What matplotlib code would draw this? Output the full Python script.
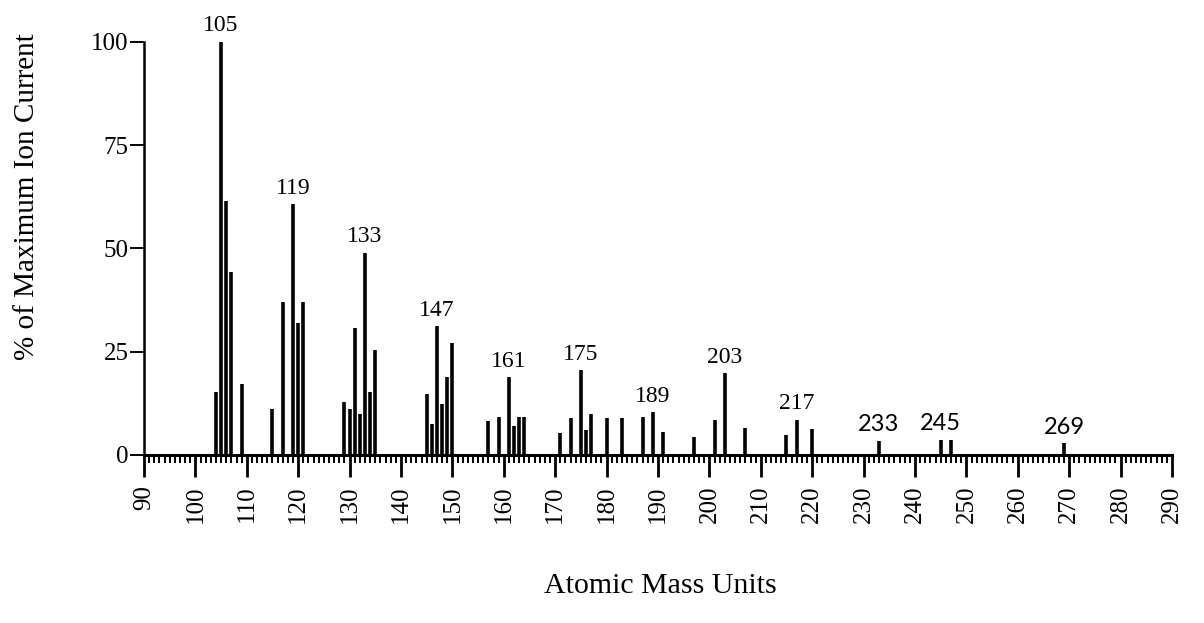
import matplotlib.pyplot as plt
from matplotlib.ticker import MultipleLocator

plt.rcParams['font.family'] = 'Liberation Serif'

# peak list: m/z and % of maximum ion current
masses = [104, 105, 106, 107, 109, 115, 117, 119, 120, 121,
          129, 130, 131, 132, 133, 134, 135,
          145, 146, 147, 148, 149, 150,
          157, 159, 161, 162, 163, 164,
          171, 173, 175, 176, 177, 180, 183,
          187, 189, 191, 197, 201, 203, 207,
          215, 217, 220, 233, 245, 247, 269]
intensity = [15.2, 100, 61.5, 44.4, 17.1, 11.1, 37.1, 60.7, 31.9, 37.1,
             12.9, 11.1, 30.8, 9.9, 48.9, 15.2, 25.4,
             14.7, 7.6, 31.2, 12.3, 18.8, 27.2,
             8.2, 9.3, 18.8, 7.0, 9.3, 9.3,
             5.4, 8.9, 20.5, 6.0, 10.0, 8.9, 8.9,
             9.1, 10.3, 5.6, 4.3, 8.5, 19.8, 6.6,
             4.9, 8.5, 6.3, 3.5, 3.7, 3.7, 2.8]

# peaks that get a mass label, and the ones lettered in a sans face
labelled = [105, 119, 133, 147, 161, 175, 189, 203, 217, 233, 245, 269]
sans_labels = [233, 245, 269]

fig = plt.figure(figsize=(12.04, 6.23), dpi=100)
ax = fig.add_axes([0.1196, 0.2697, 0.8538, 0.663])

ax.vlines(masses, 0, intensity, colors='black', linewidth=2.6, clip_on=False)

for m, h in zip(masses, intensity):
    if m in labelled:
        fam = 'Lato' if m in sans_labels else 'Liberation Serif'
        ax.annotate(str(m), (m, h), xytext=(0, 4), textcoords='offset points',
                    ha='center', va='bottom', fontsize=17, family=fam)

ax.set_xlim(90, 290)
ax.set_ylim(0, 100)

for side in ['top', 'right']:
    ax.spines[side].set_visible(False)
ax.spines['bottom'].set_linewidth(2.2)
ax.spines['left'].set_linewidth(1.8)

ax.set_yticks([0, 25, 50, 75, 100])
ax.set_xticks(range(90, 291, 10))
ax.xaxis.set_minor_locator(MultipleLocator(1))
ax.tick_params(axis='y', direction='out', length=10, width=1.4, pad=1, labelsize=18)
ax.tick_params(axis='x', which='major', direction='out', length=16, width=2.0,
               pad=6, labelsize=18, labelrotation=90)
ax.tick_params(axis='x', which='minor', direction='out', length=5.5, width=1.4)

ax.set_xlabel('Atomic Mass Units', fontsize=21.5)
ax.xaxis.set_label_coords(0.502, -0.286)
ax.set_ylabel('% of Maximum Ion Current', fontsize=21)
ax.yaxis.set_label_coords(-0.101, 0.625)

plt.savefig('out.png', dpi=100)
